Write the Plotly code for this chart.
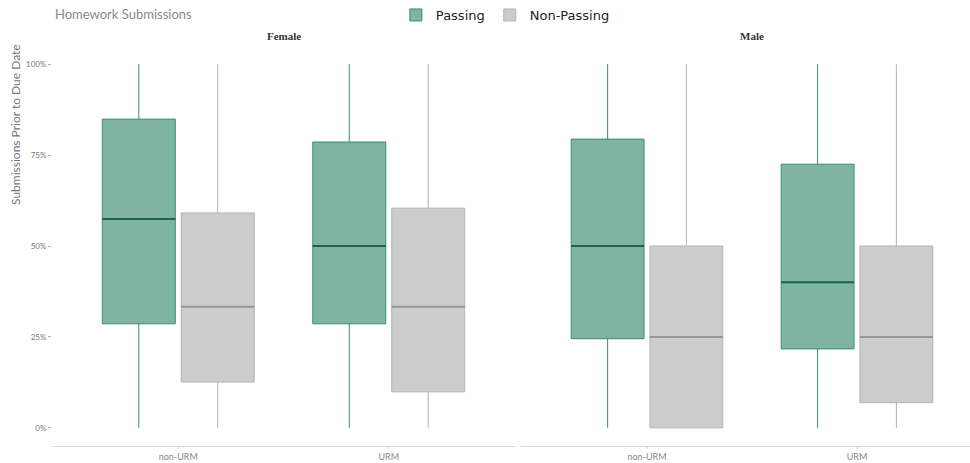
import plotly.graph_objects as go

# ---- data ----
categories = ["non-URM", "URM"]
panels = ["Female", "Male"]

# Passing stats per panel: [non-URM, URM]
pass_lower = {"Female": [0, 0], "Male": [0, 0]}
pass_q1 = {"Female": [28.6, 28.6], "Male": [24.5, 21.7]}
pass_median = {"Female": [57.4, 50.0], "Male": [50.0, 40.0]}
pass_q3 = {"Female": [84.9, 78.6], "Male": [79.4, 72.5]}
pass_upper = {"Female": [100, 100], "Male": [100, 100]}

# Non-Passing stats
non_lower = {"Female": [0, 0], "Male": [0, 0]}
non_q1 = {"Female": [12.6, 9.9], "Male": [0.0, 6.9]}
non_median = {"Female": [33.3, 33.3], "Male": [25.0, 25.0]}
non_q3 = {"Female": [59.1, 60.4], "Male": [50.0, 50.0]}
non_upper = {"Female": [100, 100], "Male": [100, 100]}

series = [
    ("Passing", pass_lower, pass_q1, pass_median, pass_q3, pass_upper,
     "rgba(127,179,162,1)", "#3a8f6f", "#1b6446"),
    ("Non-Passing", non_lower, non_q1, non_median, non_q3, non_upper,
     "rgba(204,204,204,1)", "#b3b3b3", "#969696"),
]

fig = go.Figure()
for pi, panel in enumerate(panels):
    xa = "x" if pi == 0 else "x2"
    ya = "y" if pi == 0 else "y2"
    for name, lo, q1, med, q3, up, fill, line, medc in series:
        fig.add_trace(go.Box(
            name=name, x=categories, lowerfence=lo[panel], q1=q1[panel],
            median=med[panel], q3=q3[panel], upperfence=up[panel],
            fillcolor=fill, line=dict(color=line, width=1), whiskerwidth=0,
            offsetgroup=name, legendgroup=name, showlegend=(pi == 0),
            boxpoints=False, hoverinfo="skip", xaxis=xa, yaxis=ya,
        ))
        # median overlay (thicker, darker)
        fig.add_trace(go.Box(
            name=name, x=categories, lowerfence=med[panel], q1=med[panel],
            median=med[panel], q3=med[panel], upperfence=med[panel],
            fillcolor="rgba(0,0,0,0)", line=dict(color=medc, width=2), whiskerwidth=0,
            offsetgroup=name, legendgroup=name, showlegend=False,
            boxpoints=False, hoverinfo="skip", xaxis=xa, yaxis=ya,
        ))

W, H = 970, 463
ydom = [(H - 446) / H, (H - 46) / H]
tickfont = dict(family="Lato, Open Sans, sans-serif", size=8, color="#777777")

xcommon = dict(type="category", showline=True, linecolor="#d9d9d9", linewidth=1,
               showgrid=False, zeroline=False, ticks="outside", ticklen=2,
               tickcolor="#d9d9d9", tickfont=dict(family="Lato, sans-serif", size=9, color="#888888"),
               fixedrange=True)
ycommon = dict(range=[-5, 105], tickvals=[0, 25, 50, 75, 100],
               ticktext=["0%", "25%", "50%", "75%", "100%"],
               showgrid=False, zeroline=False, showline=False,
               ticklen=3, tickcolor="#aaaaaa", tickfont=tickfont, domain=ydom)

fig.update_layout(
    width=W, height=H,
    margin=dict(l=0, r=0, t=0, b=0),
    paper_bgcolor="white", plot_bgcolor="white",
    boxmode="group", boxgap=0.25, boxgroupgap=0.075,
    xaxis=dict(domain=[52 / W, 515 / W], range=[-0.6, 1.6], anchor="y", **xcommon),
    xaxis2=dict(domain=[521 / W, 1.0], range=[-0.6, (W - 647) / 210.0], anchor="y2", **xcommon),
    yaxis=dict(anchor="x", ticks="outside", **ycommon),
    yaxis2=dict(anchor="x2", showticklabels=False, ticks="", **ycommon),
    legend=dict(orientation="h", x=0.521, xanchor="center", y=1.0, yanchor="top",
                font=dict(family="DejaVu Sans, sans-serif", size=13, color="#222222"),
                bgcolor="rgba(0,0,0,0)", itemwidth=30, tracegroupgap=0),
    showlegend=True,
)

fig.add_annotation(text="Homework Submissions", xref="paper", yref="paper",
                   x=53 / W, y=(H - 14) / H, xanchor="left", yanchor="middle",
                   showarrow=False, font=dict(family="Lato, sans-serif", size=13, color="#8a8a8a"))
fig.add_annotation(text="Submissions Prior to Due Date", xref="paper", yref="paper",
                   x=15 / W, y=(H - 125) / H, xanchor="center", yanchor="middle",
                   textangle=-90, showarrow=False,
                   font=dict(family="Lato, Open Sans, sans-serif", size=12, color="#777777"))
for pi, panel in enumerate(panels):
    cx = (283.5 if pi == 0 else 752) / W
    fig.add_annotation(text="<b>%s</b>" % panel, xref="paper", yref="paper",
                       x=cx, y=(H - 36) / H, xanchor="center", yanchor="middle",
                       showarrow=False,
                       font=dict(family="Liberation Serif, serif", size=11, color="#333333"))

fig.write_html("out.html")
